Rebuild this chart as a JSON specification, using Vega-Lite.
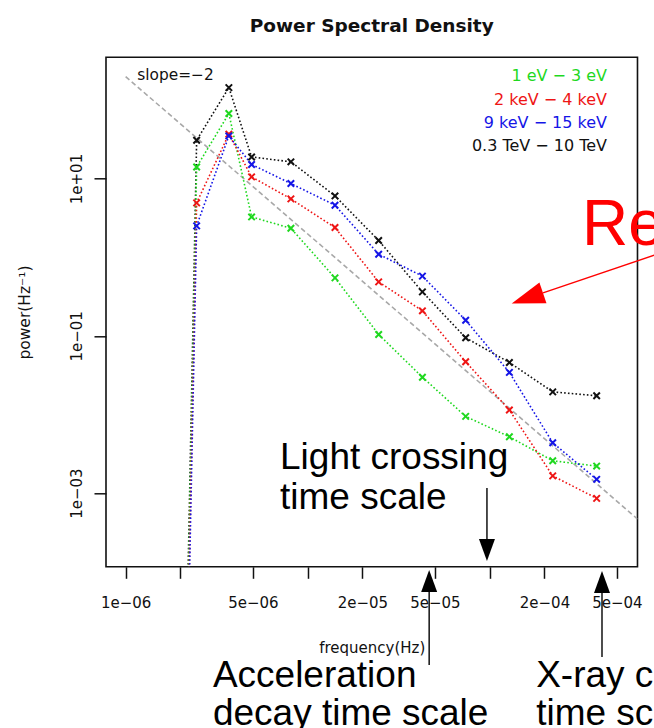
{
  "$schema": "https://vega.github.io/schema/vega-lite/v6.json",
  "width": 531.5,
  "height": 509.5,
  "autosize": {"type": "none"},
  "padding": {"left": 106, "top": 57.3, "right": 16.2, "bottom": 161.2},
  "background": "white",
  "config": {"view": {"stroke": "#111", "strokeWidth": 1.6}, "font": "DejaVu Sans"},
  "title": {"text": "Power Spectral Density", "font": "DejaVu Sans", "fontSize": 18.5, "fontWeight": "bold", "color": "#111", "anchor": "middle", "frame": "group", "baseline": "alphabetic", "offset": 7},
  "datasets": {
    "psd": [
      {"band": "0.3 TeV − 10 TeV", "freq": 1.22e-6, "power": 1.26e-34},
      {"band": "0.3 TeV − 10 TeV", "freq": 2.455e-6, "power": 30.7},
      {"band": "0.3 TeV − 10 TeV", "freq": 3.69e-6, "power": 143},
      {"band": "0.3 TeV − 10 TeV", "freq": 4.92e-6, "power": 18.8},
      {"band": "0.3 TeV − 10 TeV", "freq": 8.09e-6, "power": 16.3},
      {"band": "0.3 TeV − 10 TeV", "freq": 1.413e-5, "power": 6.01},
      {"band": "0.3 TeV − 10 TeV", "freq": 2.455e-5, "power": 1.63},
      {"band": "0.3 TeV − 10 TeV", "freq": 4.27e-5, "power": 0.362},
      {"band": "0.3 TeV − 10 TeV", "freq": 7.38e-5, "power": 0.0944},
      {"band": "0.3 TeV − 10 TeV", "freq": 1.283e-4, "power": 0.0459},
      {"band": "0.3 TeV − 10 TeV", "freq": 2.22e-4, "power": 0.0194},
      {"band": "0.3 TeV − 10 TeV", "freq": 3.87e-4, "power": 0.0173},
      {"band": "1 eV − 3 eV", "freq": 1.22e-6, "power": 1.26e-34},
      {"band": "1 eV − 3 eV", "freq": 2.455e-6, "power": 14.0},
      {"band": "1 eV − 3 eV", "freq": 3.69e-6, "power": 67.0},
      {"band": "1 eV − 3 eV", "freq": 4.92e-6, "power": 3.25},
      {"band": "1 eV − 3 eV", "freq": 8.09e-6, "power": 2.33},
      {"band": "1 eV − 3 eV", "freq": 1.413e-5, "power": 0.546},
      {"band": "1 eV − 3 eV", "freq": 2.455e-5, "power": 0.104},
      {"band": "1 eV − 3 eV", "freq": 4.27e-5, "power": 0.0298},
      {"band": "1 eV − 3 eV", "freq": 7.38e-5, "power": 0.00946},
      {"band": "1 eV − 3 eV", "freq": 1.283e-4, "power": 0.00521},
      {"band": "1 eV − 3 eV", "freq": 2.22e-4, "power": 0.00258},
      {"band": "1 eV − 3 eV", "freq": 3.87e-4, "power": 0.00221},
      {"band": "2 keV − 4 keV", "freq": 1.22e-6, "power": 1.26e-34},
      {"band": "2 keV − 4 keV", "freq": 2.455e-6, "power": 4.90},
      {"band": "2 keV − 4 keV", "freq": 3.69e-6, "power": 36.6},
      {"band": "2 keV − 4 keV", "freq": 4.92e-6, "power": 10.5},
      {"band": "2 keV − 4 keV", "freq": 8.09e-6, "power": 5.51},
      {"band": "2 keV − 4 keV", "freq": 1.413e-5, "power": 2.38},
      {"band": "2 keV − 4 keV", "freq": 2.455e-5, "power": 0.485},
      {"band": "2 keV − 4 keV", "freq": 4.27e-5, "power": 0.208},
      {"band": "2 keV − 4 keV", "freq": 7.38e-5, "power": 0.0468},
      {"band": "2 keV − 4 keV", "freq": 1.283e-4, "power": 0.0114},
      {"band": "2 keV − 4 keV", "freq": 2.22e-4, "power": 0.00166},
      {"band": "2 keV − 4 keV", "freq": 3.87e-4, "power": 0.000859},
      {"band": "9 keV − 15 keV", "freq": 1.22e-6, "power": 1.26e-34},
      {"band": "9 keV − 15 keV", "freq": 2.455e-6, "power": 2.50},
      {"band": "9 keV − 15 keV", "freq": 3.69e-6, "power": 34.8},
      {"band": "9 keV − 15 keV", "freq": 4.92e-6, "power": 15.1},
      {"band": "9 keV − 15 keV", "freq": 8.09e-6, "power": 8.63},
      {"band": "9 keV − 15 keV", "freq": 1.413e-5, "power": 4.58},
      {"band": "9 keV − 15 keV", "freq": 2.455e-5, "power": 1.09},
      {"band": "9 keV − 15 keV", "freq": 4.27e-5, "power": 0.574},
      {"band": "9 keV − 15 keV", "freq": 7.38e-5, "power": 0.158},
      {"band": "9 keV − 15 keV", "freq": 1.283e-4, "power": 0.0343},
      {"band": "9 keV − 15 keV", "freq": 2.22e-4, "power": 0.00437},
      {"band": "9 keV − 15 keV", "freq": 3.87e-4, "power": 0.0015}
    ],
    "slope": [
      {"freq": 1e-6, "power": 197.7},
      {"freq": 6.49e-4, "power": 0.000469}
    ],
    "legend": [
      {"band": "1 eV − 3 eV", "freq": 4.41e-4, "power": 202.3},
      {"band": "2 keV − 4 keV", "freq": 4.41e-4, "power": 100.9},
      {"band": "9 keV − 15 keV", "freq": 4.41e-4, "power": 50.9},
      {"band": "0.3 TeV − 10 TeV", "freq": 4.41e-4, "power": 25.7}
    ],
    "slopeLabel": [
      {"text": "slope=−2", "freq": 1.158e-6, "power": 177.4}
    ],
    "notes": [
      {"text": "Light crossing", "freq": 7.05e-6, "power": 2.02e-3},
      {"text": "time scale", "freq": 7.05e-6, "power": 6.28e-4},
      {"text": "Acceleration", "freq": 3.017e-6, "power": 3.47e-6},
      {"text": "decay time scale", "freq": 3.017e-6, "power": 1.13e-6},
      {"text": "X-ray cooling", "freq": 1.8e-4, "power": 3.47e-6},
      {"text": "time scale", "freq": 1.8e-4, "power": 1.13e-6}
    ],
    "redNote": [
      {"text": "Red noise", "freq": 3.214e-4, "power": 1.42}
    ],
    "blackArrows": [
      {"arrow": "light crossing", "freq": 9.66e-5, "power": 1.161e-3, "freq2": 9.66e-5, "power2": 2.19e-4},
      {"arrow": "acceleration", "freq": 4.65e-5, "power": 6.79e-5, "freq2": 4.65e-5, "power2": 6.55e-6},
      {"arrow": "x-ray cooling", "freq": 4.14e-4, "power": 6.79e-5, "freq2": 4.14e-4, "power2": 8.26e-6}
    ],
    "downHeads": [
      {"arrow": "light crossing", "freq": 9.66e-5, "power": 1.371e-4}
    ],
    "upHeads": [
      {"arrow": "acceleration", "freq": 4.65e-5, "power": 1.054e-4},
      {"arrow": "x-ray cooling", "freq": 4.14e-4, "power": 1.023e-4}
    ],
    "redArrow": [
      {"arrow": "red noise", "freq": 1.963e-4, "power": 0.352, "freq2": 1.43e-3, "power2": 1.673}
    ],
    "redHead": [
      {"arrow": "red noise", "freq": 1.321e-4, "power": 0.258}
    ]
  },
  "encoding": {
    "x": {
      "field": "freq", "type": "quantitative",
      "scale": {"type": "log", "domain": [7.8e-7, 6.486e-4], "nice": false, "zero": false},
      "axis": {
        "title": "frequency(Hz)", "titleFont": "DejaVu Sans", "titleFontSize": 15, "titleFontWeight": "normal", "titleColor": "#111", "titlePadding": 30,
        "values": [1e-6, 2e-6, 5e-6, 1e-5, 2e-5, 5e-5, 1e-4, 2e-4, 5e-4],
        "labelExpr": "datum.value < 1.5e-6 ? '1e−06' : (datum.value > 4e-6 && datum.value < 6e-6) ? '5e−06' : (datum.value > 1.5e-5 && datum.value < 3e-5) ? '2e−05' : (datum.value > 4e-5 && datum.value < 6e-5) ? '5e−05' : (datum.value > 1.5e-4 && datum.value < 3e-4) ? '2e−04' : datum.value > 4e-4 ? '5e−04' : ''",
        "labelFont": "DejaVu Sans", "labelFontSize": 15, "labelColor": "#111", "labelPadding": 17.5, "labelOverlap": false, "labelFlush": false,
        "tickColor": "#111", "tickWidth": 1.5, "tickSize": 11.5, "domain": false, "grid": false
      }
    },
    "y": {
      "field": "power", "type": "quantitative",
      "scale": {"type": "log", "domain": [1.159e-4, 347.5], "nice": false, "zero": false},
      "axis": {
        "title": "power(Hz⁻¹)", "titleFont": "DejaVu Sans", "titleFontSize": 15.5, "titleFontWeight": "normal", "titleColor": "#111", "titlePadding": 37,
        "values": [10, 0.1, 0.001],
        "labelExpr": "datum.value > 5 ? '1e+01' : datum.value > 0.05 ? '1e−01' : '1e−03'",
        "labelAngle": -90, "labelAlign": "center", "labelBaseline": "alphabetic",
        "labelFont": "DejaVu Sans", "labelFontSize": 15, "labelColor": "#111", "labelPadding": 12, "labelOverlap": false, "labelFlush": false,
        "tickColor": "#111", "tickWidth": 1.5, "tickSize": 12, "domain": false, "grid": false
      }
    }
  },
  "layer": [
    {
      "data": {"name": "slope"},
      "mark": {"type": "line", "color": "#a8a8a8", "strokeWidth": 1.6, "strokeDash": [5, 3], "clip": true},
      "encoding": {}
    },
    {
      "data": {"name": "psd"},
      "mark": {"type": "line", "strokeWidth": 1.6, "strokeDash": [1.6, 2.2], "clip": true},
      "encoding": {
        "color": {"field": "band", "type": "nominal", "scale": {"domain": ["1 eV − 3 eV", "2 keV − 4 keV", "9 keV − 15 keV", "0.3 TeV − 10 TeV"], "range": ["#1fd81f", "#ee1515", "#1515e6", "#111111"]}, "legend": null}
      }
    },
    {
      "data": {"name": "psd"},
      "transform": [{"filter": "datum.power > 1e-20"}],
      "mark": {"type": "point", "shape": "M-1,-1L1,1M-1,1L1,-1", "filled": false, "size": 42, "strokeWidth": 2, "opacity": 1, "clip": true},
      "encoding": {
        "color": {"field": "band", "type": "nominal", "legend": null}
      }
    },
    {
      "data": {"name": "legend"},
      "mark": {"type": "text", "align": "right", "baseline": "middle", "font": "DejaVu Sans", "fontSize": 16},
      "encoding": {
        "text": {"field": "band"},
        "color": {"field": "band", "type": "nominal", "legend": null}
      }
    },
    {
      "data": {"name": "slopeLabel"},
      "mark": {"type": "text", "align": "left", "baseline": "alphabetic", "font": "DejaVu Sans", "fontSize": 15.4, "color": "#111"},
      "encoding": {"text": {"field": "text"}}
    },
    {
      "data": {"name": "notes"},
      "mark": {"type": "text", "align": "left", "baseline": "alphabetic", "font": "Liberation Sans", "fontSize": 37, "color": "#000"},
      "encoding": {"text": {"field": "text"}}
    },
    {
      "data": {"name": "redNote"},
      "mark": {"type": "text", "align": "left", "baseline": "alphabetic", "font": "Liberation Sans", "fontSize": 64, "color": "#ff0000"},
      "encoding": {"text": {"field": "text"}}
    },
    {
      "data": {"name": "blackArrows"},
      "mark": {"type": "rule", "color": "#000", "strokeWidth": 1.4},
      "encoding": {"x2": {"field": "freq2"}, "y2": {"field": "power2"}}
    },
    {
      "data": {"name": "downHeads"},
      "mark": {"type": "point", "shape": "M0,0L-8,-22L8,-22Z", "size": 4, "filled": true, "color": "#000", "opacity": 1, "strokeWidth": 0},
      "encoding": {}
    },
    {
      "data": {"name": "upHeads"},
      "mark": {"type": "point", "shape": "M0,0L-8,22L8,22Z", "size": 4, "filled": true, "color": "#000", "opacity": 1, "strokeWidth": 0},
      "encoding": {}
    },
    {
      "data": {"name": "redArrow"},
      "mark": {"type": "rule", "color": "#ff0000", "strokeWidth": 1.5},
      "encoding": {"x2": {"field": "freq2"}, "y2": {"field": "power2"}}
    },
    {
      "data": {"name": "redHead"},
      "mark": {"type": "point", "shape": "M0,0L33,-11L33,11Z", "size": 4, "filled": true, "color": "#ff0000", "opacity": 1, "strokeWidth": 0, "angle": 341.3},
      "encoding": {}
    }
  ]
}
